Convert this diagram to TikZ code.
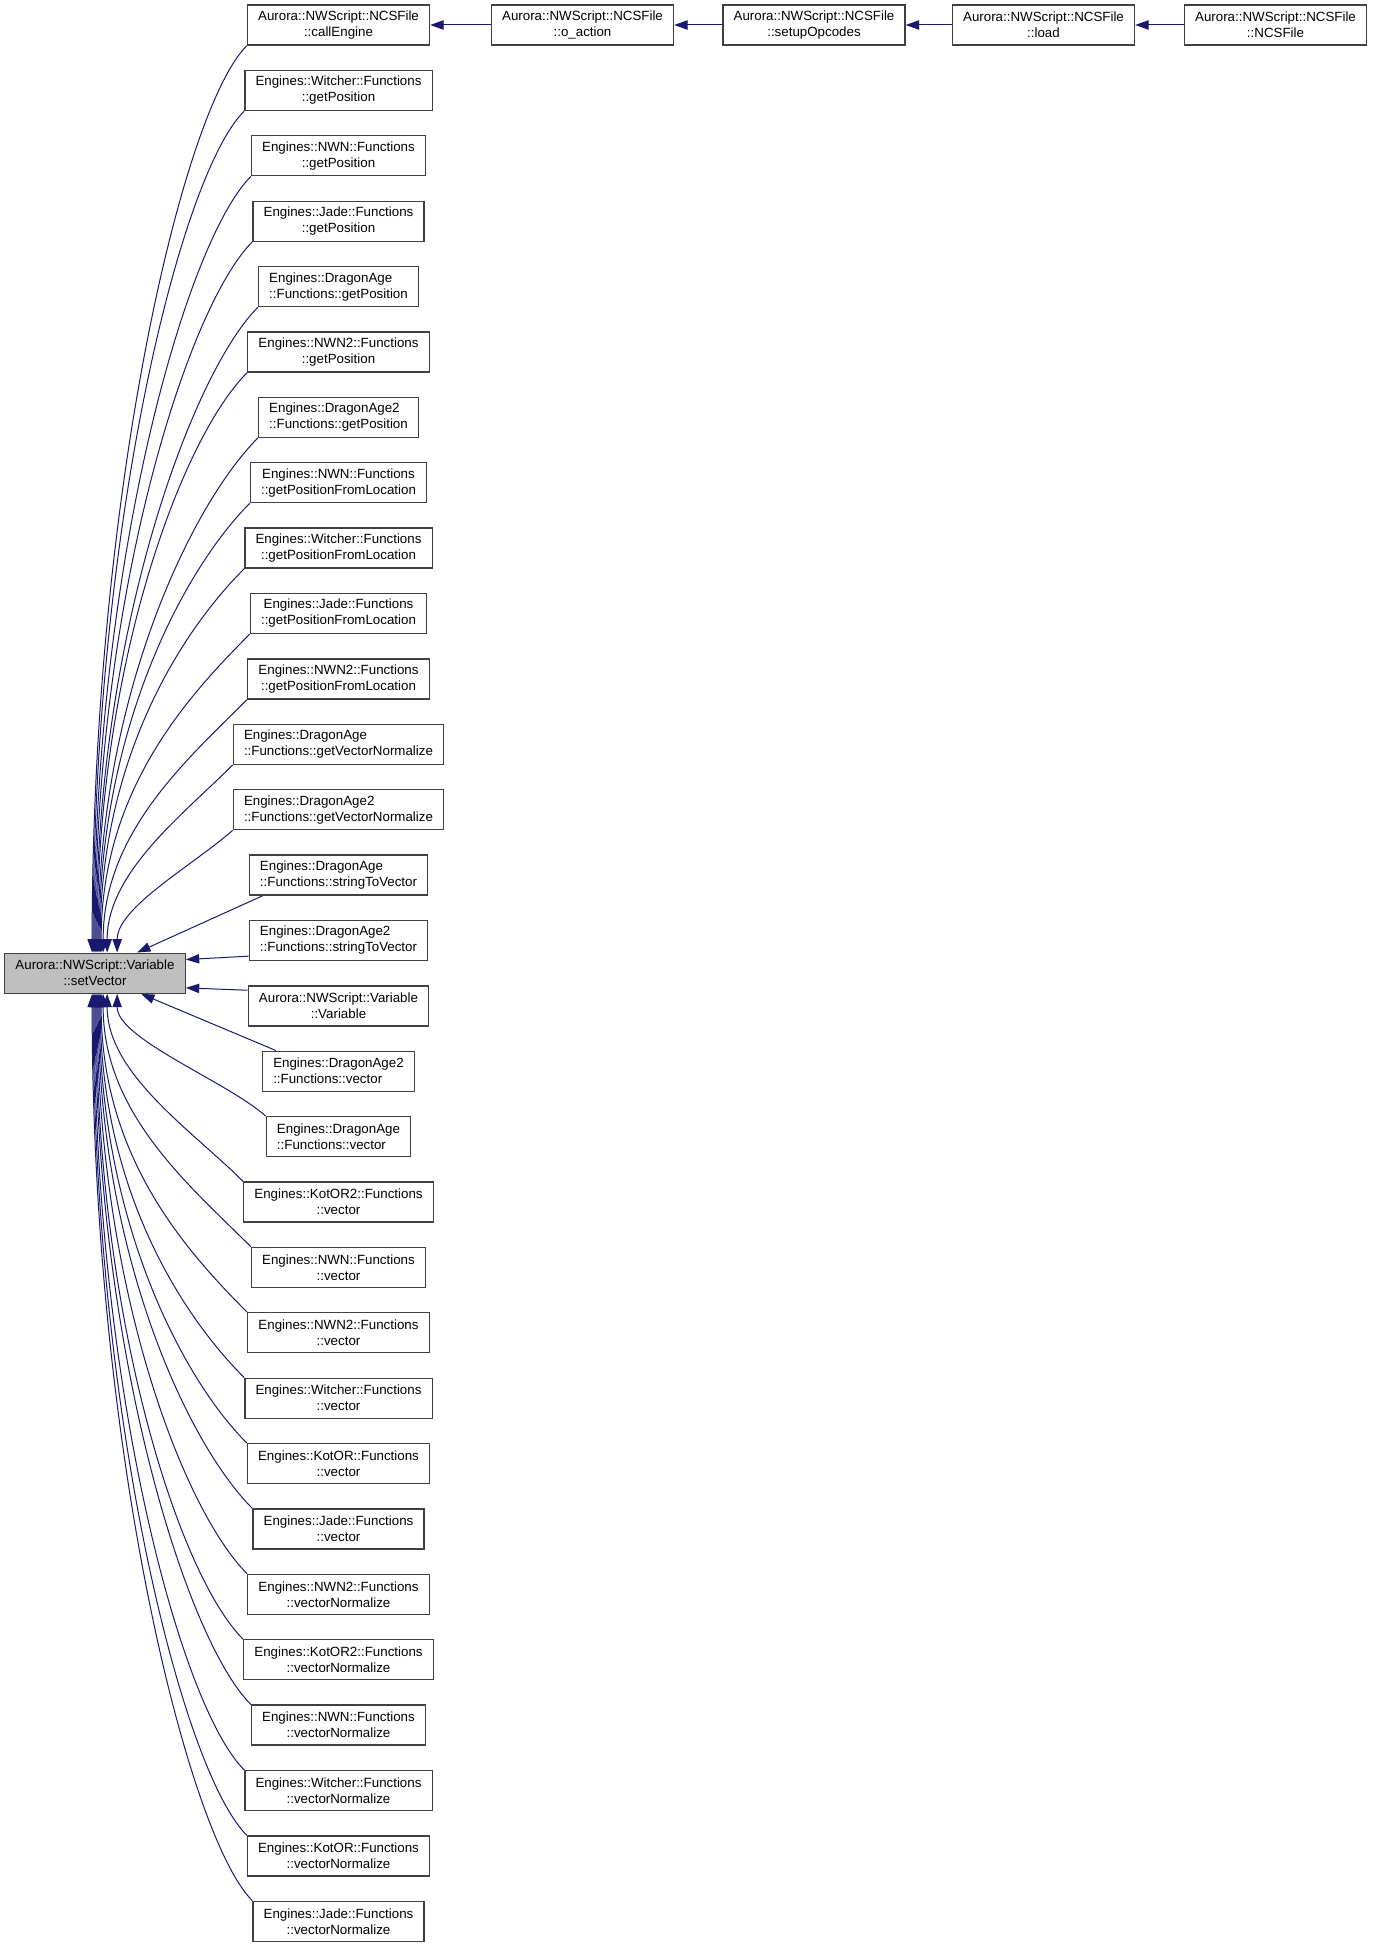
\documentclass[tikz,border=0pt]{standalone}
\usepackage{fontspec}
\setmainfont{Liberation Sans}
\usetikzlibrary{arrows.meta,calc}
\definecolor{edgeblue}{HTML}{191970}
\definecolor{boxline}{HTML}{404040}
\definecolor{boxfill}{HTML}{BFBFBF}

\begin{document}
\begin{tikzpicture}[x=0.75pt,y=-0.75pt,
  fn/.style={draw=boxline, line width=1pt, fill=white, align=center, inner xsep=8pt, inner ysep=2pt, minimum height=30pt, font=\fontsize{10pt}{12pt}\selectfont},
  fnl/.style={fn, align=left},
  cur/.style={fn, fill=boxfill},
  call/.style={draw=edgeblue, line width=0.75pt, -{Triangle[length=10pt,width=7pt]}}]
\useasboundingbox (0,0) rectangle (1372,1947);

% the function itself
\node[cur] (sv) at (95,973.2) {Aurora::NWScript::Variable\\::setVector};

% chain at the top
\node[fn] (ce) at (338.5,25) {Aurora::NWScript::NCSFile\\::callEngine};
\node[fn] (oa) at (582.5,25) {Aurora::NWScript::NCSFile\\::o\_action};
\node[fn] (so) at (814,25) {Aurora::NWScript::NCSFile\\::setupOpcodes};
\node[fn] (ld) at (1043.5,25) {Aurora::NWScript::NCSFile\\::load};
\node[fn] (nf) at (1275.5,25) {Aurora::NWScript::NCSFile\\::NCSFile};
\draw[call] (oa) -- (ce);
\draw[call] (so) -- (oa);
\draw[call] (ld) -- (so);
\draw[call] (nf) -- (ld);

% callers above
\node[fn] (wgp) at (338.5,90.4) {Engines::Witcher::Functions\\::getPosition};
\node[fn] (ngp) at (338.5,155.8) {Engines::NWN::Functions\\::getPosition};
\node[fn] (jgp) at (338.5,221.2) {Engines::Jade::Functions\\::getPosition};
\node[fnl] (dgp) at (338.5,286.6) {Engines::DragonAge\\::Functions::getPosition};
\node[fn] (n2gp) at (338.5,352.0) {Engines::NWN2::Functions\\::getPosition};
\node[fnl] (d2gp) at (338.5,417.3) {Engines::DragonAge2\\::Functions::getPosition};
\node[fn] (ngpl) at (338.5,482.7) {Engines::NWN::Functions\\::getPositionFromLocation};
\node[fn] (wgpl) at (338.5,548.1) {Engines::Witcher::Functions\\::getPositionFromLocation};
\node[fn] (jgpl) at (338.5,613.5) {Engines::Jade::Functions\\::getPositionFromLocation};
\node[fn] (n2gpl) at (338.5,678.9) {Engines::NWN2::Functions\\::getPositionFromLocation};
\node[fnl] (dgvn) at (338.5,744.3) {Engines::DragonAge\\::Functions::getVectorNormalize};
\node[fnl] (d2gvn) at (338.5,809.7) {Engines::DragonAge2\\::Functions::getVectorNormalize};
\node[fnl] (dstv) at (338.5,875.1) {Engines::DragonAge\\::Functions::stringToVector};
\node[fnl] (d2stv) at (338.5,940.5) {Engines::DragonAge2\\::Functions::stringToVector};

% callers below
\node[fn] (var) at (338.5,1005.9) {Aurora::NWScript::Variable\\::Variable};
\node[fnl] (d2v) at (338.5,1071.2) {Engines::DragonAge2\\::Functions::vector};
\node[fnl] (dv) at (338.5,1136.6) {Engines::DragonAge\\::Functions::vector};
\node[fn] (k2v) at (338.5,1202.0) {Engines::KotOR2::Functions\\::vector};
\node[fn] (nv) at (338.5,1267.4) {Engines::NWN::Functions\\::vector};
\node[fn] (n2v) at (338.5,1332.8) {Engines::NWN2::Functions\\::vector};
\node[fn] (wv) at (338.5,1398.2) {Engines::Witcher::Functions\\::vector};
\node[fn] (kv) at (338.5,1463.6) {Engines::KotOR::Functions\\::vector};
\node[fn] (jv) at (338.5,1529.0) {Engines::Jade::Functions\\::vector};
\node[fn] (n2vn) at (338.5,1594.4) {Engines::NWN2::Functions\\::vectorNormalize};
\node[fn] (k2vn) at (338.5,1659.8) {Engines::KotOR2::Functions\\::vectorNormalize};
\node[fn] (nvn) at (338.5,1725.1) {Engines::NWN::Functions\\::vectorNormalize};
\node[fn] (wvn) at (338.5,1790.5) {Engines::Witcher::Functions\\::vectorNormalize};
\node[fn] (kvn) at (338.5,1855.9) {Engines::KotOR::Functions\\::vectorNormalize};
\node[fn] (jvn) at (338.5,1921.3) {Engines::Jade::Functions\\::vectorNormalize};

% edges into the top of setVector
\draw[call] (ce.south west) .. controls +(-65,65) and +(0,-454) .. ($(sv.north west)+(88,0)$);
\draw[call] (wgp.south west) .. controls +(-65,65) and +(0,-421) .. ($(sv.north west)+(89,0)$);
\draw[call] (ngp.south west) .. controls +(-65,65) and +(0,-389) .. ($(sv.north west)+(90,0)$);
\draw[call] (jgp.south west) .. controls +(-65,65) and +(0,-356) .. ($(sv.north west)+(91,0)$);
\draw[call] (dgp.south west) .. controls +(-65,65) and +(0,-323) .. ($(sv.north west)+(92,0)$);
\draw[call] (n2gp.south west) .. controls +(-65,65) and +(0,-290) .. ($(sv.north west)+(93,0)$);
\draw[call] (d2gp.south west) .. controls +(-65,65) and +(0,-258) .. ($(sv.north west)+(94,0)$);
\draw[call] (ngpl.south west) .. controls +(-65,65) and +(0,-225) .. ($(sv.north west)+(95,0)$);
\draw[call] (wgpl.south west) .. controls +(-65,65) and +(0,-192) .. ($(sv.north west)+(96,0)$);
\draw[call] (jgpl.south west) .. controls +(-65,65) and +(0,-160) .. ($(sv.north west)+(97,0)$);
\draw[call] (n2gpl.south west) .. controls +(-60,60) and +(0,-120) .. ($(sv.north west)+(99,0)$);
\draw[call] (dgvn.south west) .. controls +(-50,50) and +(0,-80) .. ($(sv.north west)+(103,0)$);
\draw[call] (d2gvn.south west) .. controls +(-40,35) and +(0,-45) .. ($(sv.north west)+(113,0)$);
\draw[call] ($(dstv.south west)+(14,0)$) -- ($(sv.north west)+(133,0)$);
\draw[call] ($(d2stv.south west)+(0,-5)$) -- ($(sv.north east)+(0,7)$);

% edges into the bottom of setVector
\draw[call] ($(var.north west)+(0,5)$) -- ($(sv.south east)+(0,-6)$);
\draw[call] ($(d2v.north west)+(14,0)$) -- ($(sv.south west)+(137,0)$);
\draw[call] (dv.north west) .. controls +(-40,-35) and +(0,45) .. ($(sv.south west)+(113,0)$);
\draw[call] (k2v.north west) .. controls +(-50,-50) and +(0,80) .. ($(sv.south west)+(103,0)$);
\draw[call] (nv.north west) .. controls +(-60,-60) and +(0,120) .. ($(sv.south west)+(99,0)$);
\draw[call] (n2v.north west) .. controls +(-65,-65) and +(0,160) .. ($(sv.south west)+(97,0)$);
\draw[call] (wv.north west) .. controls +(-65,-65) and +(0,192) .. ($(sv.south west)+(96,0)$);
\draw[call] (kv.north west) .. controls +(-65,-65) and +(0,225) .. ($(sv.south west)+(95,0)$);
\draw[call] (jv.north west) .. controls +(-65,-65) and +(0,258) .. ($(sv.south west)+(94,0)$);
\draw[call] (n2vn.north west) .. controls +(-65,-65) and +(0,290) .. ($(sv.south west)+(93,0)$);
\draw[call] (k2vn.north west) .. controls +(-65,-65) and +(0,323) .. ($(sv.south west)+(92,0)$);
\draw[call] (nvn.north west) .. controls +(-65,-65) and +(0,356) .. ($(sv.south west)+(91,0)$);
\draw[call] (wvn.north west) .. controls +(-65,-65) and +(0,389) .. ($(sv.south west)+(90,0)$);
\draw[call] (kvn.north west) .. controls +(-65,-65) and +(0,421) .. ($(sv.south west)+(89,0)$);
\draw[call] (jvn.north west) .. controls +(-65,-65) and +(0,454) .. ($(sv.south west)+(88,0)$);
\end{tikzpicture}
\end{document}
